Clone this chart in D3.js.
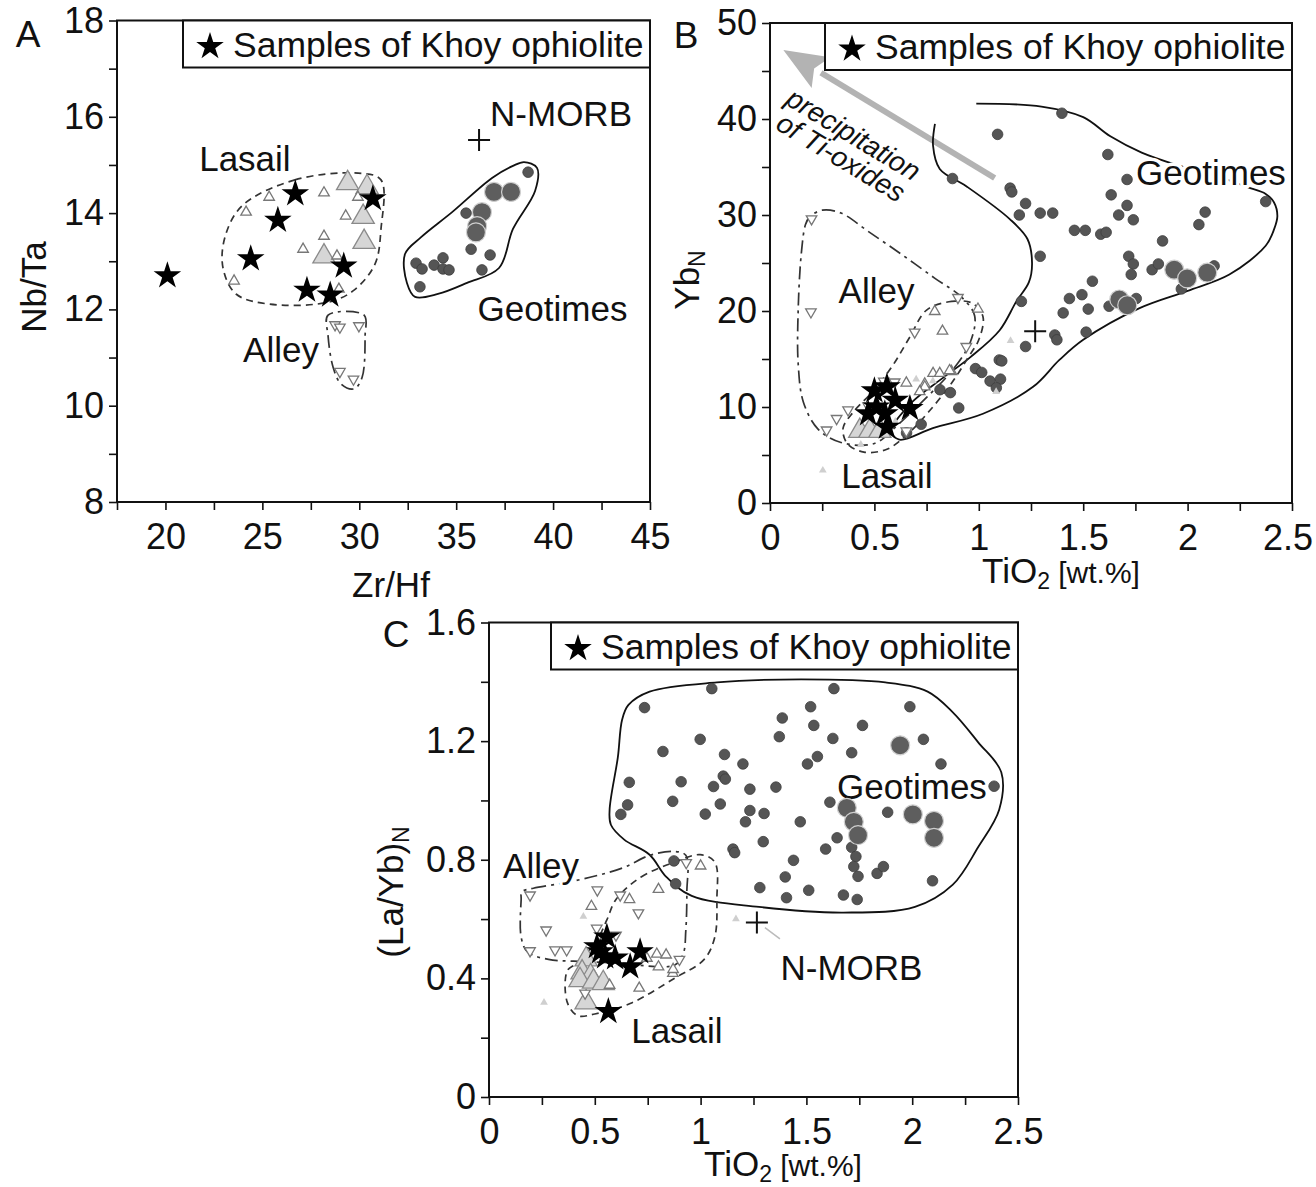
<!DOCTYPE html>
<html><head><meta charset="utf-8">
<script src="https://cdn.jsdelivr.net/npm/d3@7"></script>
<style>
body{margin:0;background:#fff;}
svg text{font-family:"Liberation Sans",Arial,Helvetica,sans-serif;fill:#111;}
</style></head><body>
<svg id="c" width="1316" height="1187"></svg>
<script>
// ---------- Panel A : Zr/Hf vs Nb/Ta ----------
const aXTicks=[20,25,30,35,40,45], aXMinor=[17.5,22.5,27.5,32.5,37.5,42.5];
const aYTicks=[8,10,12,14,16,18], aYMinor=[9,11,13,15,17];
const aStars=[[20.1,12.7],[24.4,13.05],[25.8,13.85],[26.7,14.4],[27.3,12.4],[28.5,12.3],[29.2,12.9],[30.7,14.3]];
const aGeoSmall=[[38.71,14.85],[35.51,14.0],[35.77,13.25],[36.75,13.13],[36.33,12.82],[32.93,12.96],[33.24,12.84],[33.86,12.92],[34.32,13.07],[34.32,12.84],[34.63,12.82],[33.13,12.47]];
const aGeoLarge=[[36.95,14.44],[37.83,14.44],[36.33,14.02],[36.08,13.73],[36.02,13.6]];
const aLasailSmall=[[24.16,14.02],[25.35,14.33],[28.18,14.42],[23.54,12.59],[27.1,13.25],[28.18,13.52],[29.3,13.94],[29.93,14.33],[28.85,13.11],[28.95,12.42]];
const aLasailLarge=[[29.4,14.62],[30.4,14.54],[30.2,13.92],[30.25,13.4],[28.18,13.1]];
const aLasailTiny=[];
const aAlley=[[28.75,11.68],[29.0,11.63],[29.98,11.66],[29.0,10.71],[29.7,10.55]];
const aNMORB=[[36.18,15.52]];
const aGeoHull=[[38.5,15.06],[39.17,14.94],[39.07,14.46],[37.93,13.67],[37.21,12.86],[35.56,12.55],[34.06,12.32],[32.88,12.26],[32.46,12.55],[32.36,13.15],[33.19,13.5],[34.79,14.02],[36.85,14.73],[37.93,14.98]];
const aLasailHull=[[23.95,14.15],[26.68,14.69],[29.94,14.83],[31.12,14.69],[31.12,13.67],[30.81,12.94],[29.73,12.40],[28.39,12.15],[25.34,12.11],[23.64,12.32],[22.97,12.86],[23.07,13.5]];
const aAlleyHull=[[28.39,11.88],[30.25,11.88],[30.3,11.45],[30.14,10.58],[29.73,10.35],[29.06,10.45],[28.65,10.8],[28.39,11.45]];
const aLabels=[{t:"Lasail",x:24.1,y:15.14},{t:"N-MORB",x:40.41,y:16.08},{t:"Geotimes",x:39.97,y:12.03},{t:"Alley",x:25.96,y:11.16}];

// ---------- Panel B : TiO2 vs YbN ----------
const bXTicks=[0,0.5,1,1.5,2,2.5], bXMinor=[0.25,0.75,1.25,1.75,2.25];
const bYTicks=[0,10,20,30,40,50], bYMinor=[5,15,25,35,45];
const bStars=[[0.50,11.7],[0.56,12.1],[0.47,9.3],[0.55,9.3],[0.67,9.85],[0.56,7.9],[0.6,10.7],[0.51,10.0]];
const bGeoSmall=[[1.398,40.6],[1.09,38.4],[1.618,36.3],[0.874,33.8],[1.71,33.7],[1.15,32.8],[1.158,32.4],[1.634,32.1],[1.224,31.2],[1.71,31.0],[1.194,30.0],[1.294,30.2],[1.354,30.2],[1.67,30.0],[1.74,29.5],[2.084,30.3],[1.458,28.4],[1.51,28.4],[1.584,28.0],[1.61,28.2],[2.054,29.0],[1.88,27.3],[1.294,25.7],[1.718,25.7],[1.74,24.9],[1.73,23.8],[1.83,24.3],[1.86,24.9],[1.544,23.1],[1.434,21.3],[1.494,21.7],[1.624,20.5],[1.754,21.3],[1.204,21.0],[1.404,19.8],[1.524,20.2],[1.97,22.3],[1.514,17.8],[1.364,17.5],[1.374,17.0],[1.224,16.3],[1.098,14.9],[1.11,14.8],[0.984,14.0],[1.014,13.6],[1.054,12.7],[1.104,12.9],[1.084,12.0],[0.814,11.8],[0.864,11.5],[0.904,9.9],[0.724,8.2],[0.654,7.3],[2.374,31.4],[2.127,24.7]];
const bGeoLarge=[[1.936,24.3],[1.998,23.4],[2.094,24.0],[1.673,21.2],[1.711,20.6]];
const bLasailSmall=[[0.789,19.95],[0.826,17.9],[0.996,20.2],[0.781,13.5],[0.869,13.7],[0.741,12.4],[0.653,12.5],[0.813,13.5],[0.86,13.8],[0.741,12.1],[0.717,11.6]];
const bLasailLarge=[[0.43,7.5],[0.478,7.5],[0.526,7.5]];
const bLasailTiny=[[0.253,3.4],[1.152,16.9],[1.083,11.6],[0.435,6.1],[0.7,12.9],[0.60,8.5],[0.78,12.7]];
const bAlley=[[0.199,29.6],[0.196,19.9],[0.693,17.8],[0.94,16.3],[0.9,21.4],[0.271,7.6],[0.319,8.8],[0.374,9.7],[0.597,12.6],[0.545,12.7],[0.653,7.5],[0.47,10.1]];
const bNMORB=[[1.27,17.9]];
const bGeoHull=[[0.988,41.6],[1.3,41.3],[1.5,40.2],[1.63,38.2],[1.78,36.5],[1.95,35.2],[2.15,34.0],[2.286,32.9],[2.374,32.2],[2.414,31.3],[2.43,29.9],[2.414,28.5],[2.374,26.8],[2.2,23.8],[2.0,22.1],[1.77,20.3],[1.5,17.0],[1.386,14.9],[1.26,12.1],[1.02,9.3],[0.78,7.8],[0.62,6.6],[0.58,7.5],[0.68,10.5],[0.82,12.9],[0.96,15.2],[1.1,18.0],[1.18,21.0],[1.24,23.0],[1.255,25.0],[1.233,27.5],[1.147,29.6],[0.94,33.0],[0.813,34.8],[0.781,37.2],[0.79,39.5]];
const bAlleyHull=[[0.19,29.8],[0.25,30.5],[0.34,30.2],[0.47,28.3],[0.63,25.9],[0.79,23.4],[0.92,21.4],[0.98,19.5],[0.96,16.8],[0.88,14.0],[0.75,11.0],[0.62,8.3],[0.5,6.2],[0.34,6.3],[0.23,7.7],[0.16,10.5],[0.135,14.5],[0.135,20.1],[0.15,26],[0.17,29]];
const bLasailHull=[[0.75,20.1],[0.87,21.0],[0.97,20.8],[1.02,19.4],[1.0,17.0],[0.95,15.2],[0.87,12.5],[0.76,9.5],[0.66,7.2],[0.56,5.6],[0.45,5.3],[0.37,6.2],[0.35,7.8],[0.4,9.5],[0.5,11.8],[0.59,14.4],[0.67,17.3]];
const bLabels=[{t:"Geotimes",x:2.112,y:34.48},{t:"Alley",x:0.51,y:22.19},{t:"Lasail",x:0.56,y:2.85}];
const bArrow=[[1.076,33.85],[0.064,47.2]];
const bArrowText=[{t:"precipitation",x:0.4,y:38.4},{t:"of Ti-oxides",x:0.34,y:36.0}];

// ---------- Panel C : TiO2 vs (La/Yb)N ----------
const cXTicks=[0,0.5,1,1.5,2,2.5], cXMinor=[0.25,0.75,1.25,1.75,2.25];
const cYTicks=[0,0.4,0.8,1.2,1.6], cYMinor=[0.2,0.6,1.0,1.4];
const cStars=[[0.51,0.507],[0.557,0.54],[0.549,0.473],[0.596,0.469],[0.714,0.49],[0.667,0.439],[0.564,0.288],[0.525,0.49]];
const cGeoSmall=[[1.053,1.377],[1.63,1.377],[0.735,1.313],[1.52,1.316],[1.989,1.316],[1.386,1.278],[1.535,1.253],[1.765,1.253],[0.998,1.206],[1.372,1.215],[1.625,1.209],[2.053,1.206],[0.822,1.165],[1.113,1.155],[1.552,1.148],[1.714,1.161],[1.2,1.123],[1.505,1.123],[2.136,1.123],[0.663,1.061],[0.908,1.063],[1.107,1.082],[1.117,1.072],[1.061,1.047],[1.233,1.038],[1.356,1.045],[2.387,1.048],[0.655,0.985],[0.623,0.953],[0.868,0.997],[1.093,0.988],[1.022,0.954],[1.233,0.966],[1.212,0.928],[1.3,0.956],[1.611,0.994],[1.884,0.96],[1.471,0.928],[1.296,0.861],[1.591,0.836],[1.645,0.874],[1.153,0.836],[1.161,0.824],[1.714,0.842],[1.734,0.811],[1.439,0.798],[1.724,0.777],[1.744,0.744],[1.834,0.754],[1.864,0.777],[1.40,0.742],[2.096,0.729],[1.28,0.706],[1.511,0.697],[1.406,0.672],[1.675,0.681],[1.74,0.666],[0.874,0.796],[0.882,0.719]];
const cGeoLarge=[[1.943,1.186],[1.691,0.975],[1.724,0.928],[1.744,0.883],[2.003,0.953],[2.103,0.931],[2.103,0.874]];
const cLasailSmall=[[0.484,0.643],[0.664,0.666],[0.801,0.70],[1.0,0.779],[0.746,0.468],[0.793,0.482],[0.837,0.479],[0.801,0.439],[0.869,0.417],[0.71,0.367],[0.57,0.377],[0.87,0.43]];
const cLasailLarge=[[0.459,0.464],[0.44,0.42],[0.48,0.407],[0.43,0.394],[0.494,0.389],[0.459,0.319],[0.54,0.384]];
const cLasailTiny=[[0.26,0.319],[0.446,0.609],[1.167,0.6]];
const cAlley=[[0.194,0.681],[0.512,0.698],[0.62,0.681],[0.706,0.621],[0.27,0.563],[0.509,0.569],[0.194,0.493],[0.312,0.496],[0.367,0.496],[0.454,0.35],[0.9,0.464],[0.6,0.546],[0.932,0.79]];
const cNMORB=[[1.266,0.588]];
const cGeoHull=[[0.659,1.322],[0.759,1.367],[1.077,1.398],[1.475,1.408],[1.873,1.398],[2.073,1.367],[2.192,1.297],[2.312,1.196],[2.421,1.095],[2.411,0.969],[2.312,0.843],[2.192,0.716],[2.013,0.641],[1.675,0.622],[1.276,0.641],[0.958,0.678],[0.838,0.742],[0.759,0.817],[0.639,0.868],[0.576,0.918],[0.57,0.969],[0.609,1.146],[0.629,1.272]];
const cAlleyHull=[[0.155,0.692],[0.21,0.704],[0.4,0.728],[0.63,0.772],[0.76,0.815],[0.87,0.828],[0.93,0.815],[0.935,0.69],[0.93,0.56],[0.918,0.483],[0.878,0.445],[0.6,0.452],[0.4,0.458],[0.281,0.464],[0.182,0.489],[0.152,0.539],[0.152,0.666]];
const cLasailHull=[[0.6,0.666],[0.719,0.742],[0.878,0.792],[0.998,0.817],[1.067,0.792],[1.077,0.666],[1.067,0.539],[1.017,0.464],[0.878,0.401],[0.667,0.315],[0.5,0.28],[0.42,0.274],[0.37,0.319],[0.37,0.426],[0.415,0.451],[0.51,0.529],[0.557,0.597]];
const cLabels=[{t:"Geotimes",x:1.999,y:1.049},{t:"Alley",x:0.246,y:0.782},{t:"Lasail",x:0.888,y:0.226},{t:"N-MORB",x:1.713,y:0.438}];
const cLeader=[[1.304,0.571],[1.375,0.533]];

const legendText="Samples of Khoy ophiolite";

// ---------- drawing ----------
const svg=d3.select("#c");
const FS=35, TFS=36;
const starPath=d3.symbol(d3.symbolStar,235)();
const triS=d3.symbol(d3.symbolTriangle,48)();
const triL=d3.symbol(d3.symbolTriangle,215)();
const triT=d3.symbol(d3.symbolTriangle,26)();

function panel(p){
  const g=svg.append("g");
  const x=d3.scaleLinear().domain(p.xd).range([p.L,p.R]);
  const y=d3.scaleLinear().domain(p.yd).range([p.B,p.T]);
  const fmt=d=>String(d);
  const xa=g.append("g").attr("transform",`translate(0,${p.B})`)
    .call(d3.axisBottom(x).tickValues(p.xt).tickSize(8).tickPadding(13).tickFormat(fmt));
  const xm=g.append("g").attr("transform",`translate(0,${p.B})`)
    .call(d3.axisBottom(x).tickValues(p.xm).tickSize(8).tickFormat(""));
  const ya=g.append("g").attr("transform",`translate(${p.L},0)`)
    .call(d3.axisLeft(y).tickValues(p.yt).tickSize(8).tickPadding(5).tickFormat(fmt));
  const ym=g.append("g").attr("transform",`translate(${p.L},0)`)
    .call(d3.axisLeft(y).tickValues(p.ym).tickSize(8).tickFormat(""));
  [xa,xm,ya,ym].forEach(a=>{
    a.select(".domain").remove();
    a.selectAll(".tick line").attr("stroke","#111").attr("stroke-width",1.6);
    a.selectAll(".tick text").attr("font-size",TFS).attr("fill","#111")
      .attr("font-family",'"Liberation Sans",Arial,sans-serif');
  });
  // keep the last x tick label inside the window
  xa.selectAll(".tick text").each(function(){
    const bb=this.getBBox(), m=this.parentNode.transform.baseVal.consolidate().matrix.e;
    const over=m+bb.x+bb.width-1313;
    if(over>0) d3.select(this).attr("dx",-over);
  });
  if(p.arrow){
    const [t0,t1]=p.arrow;
    const x0=x(t0[0]),y0=y(t0[1]),x1=x(t1[0]),y1=y(t1[1]);
    const ang=Math.atan2(y1-y0,x1-x0), hl=44, hw=18;
    const bx=x1-hl*Math.cos(ang), by=y1-hl*Math.sin(ang);
    g.append("line").attr("x1",x0).attr("y1",y0).attr("x2",bx).attr("y2",by)
      .attr("stroke","#b3b3b3").attr("stroke-width",6);
    const px=-Math.sin(ang)*hw, py=Math.cos(ang)*hw;
    g.append("path").attr("d",`M${x1},${y1}L${bx+px},${by+py}L${bx+8*Math.cos(ang)},${by+8*Math.sin(ang)}L${bx-px},${by-py}Z`)
      .attr("fill","#b3b3b3");
    const rot=Math.atan2(y0-y1,x0-x1)*180/Math.PI;
    p.arrowText.forEach(a=>{
      g.append("text").attr("transform",`translate(${x(a.x)},${y(a.y)}) rotate(${rot})`)
        .attr("text-anchor","middle").attr("dy","0.35em").attr("font-size",28)
        .attr("font-style","italic").attr("fill","#222").text(a.t);
    });
  }
  const closed=d3.line().x(d=>x(d[0])).y(d=>y(d[1])).curve(d3.curveCatmullRomClosed.alpha(0.5));
  const open=d3.line().x(d=>x(d[0])).y(d=>y(d[1])).curve(d3.curveCatmullRom.alpha(0.5));
  g.append("path").attr("d",(p.geoOpen?open:closed)(p.geoHull)).attr("fill","none").attr("stroke","#111").attr("stroke-width",1.8);
  g.append("path").attr("d",closed(p.lasHull)).attr("fill","none").attr("stroke","#333").attr("stroke-width",1.7).attr("stroke-dasharray","7,5");
  g.append("path").attr("d",closed(p.allHull)).attr("fill","none").attr("stroke","#333").attr("stroke-width",1.7).attr("stroke-dasharray","13,5,3,5");
  if(p.leader){
    g.append("line").attr("x1",x(p.leader[0][0])).attr("y1",y(p.leader[0][1]))
      .attr("x2",x(p.leader[1][0])).attr("y2",y(p.leader[1][1])).attr("stroke","#bbb").attr("stroke-width",1.5);
  }
  p.labels.forEach(l=>{
    g.append("text").attr("x",x(l.x)).attr("y",y(l.y)).attr("dy","0.36em").attr("text-anchor","middle")
      .attr("font-size",FS).attr("stroke","#fff").attr("stroke-width",7).attr("paint-order","stroke")
      .attr("stroke-linejoin","round").text(l.t);
  });
  g.selectAll(".gs").data(p.geoS).join("circle").attr("cx",d=>x(d[0])).attr("cy",d=>y(d[1])).attr("r",5.3)
    .attr("fill","#555").attr("stroke","#3d3d3d").attr("stroke-width",0.8);
  g.selectAll(".gl").data(p.geoL).join("circle").attr("cx",d=>x(d[0])).attr("cy",d=>y(d[1])).attr("r",9.5)
    .attr("fill","#5e5e5e").attr("stroke","#cfcfcf").attr("stroke-width",1.2);
  g.selectAll(".tt").data(p.lasT).join("path").attr("d",triT).attr("transform",d=>`translate(${x(d[0])},${y(d[1])})`)
    .attr("fill","#cfcfcf");
  g.selectAll(".tl").data(p.lasL).join("path").attr("d",triL).attr("transform",d=>`translate(${x(d[0])},${y(d[1])})`)
    .attr("fill","#d6d6d6").attr("stroke","#8a8a8a").attr("stroke-width",1.3);
  g.selectAll(".ts").data(p.lasS).join("path").attr("d",triS).attr("transform",d=>`translate(${x(d[0])},${y(d[1])})`)
    .attr("fill","#fff").attr("stroke","#777").attr("stroke-width",1.3);
  g.selectAll(".td").data(p.alley).join("path").attr("d",triS).attr("transform",d=>`translate(${x(d[0])},${y(d[1])}) rotate(180)`)
    .attr("fill","#fff").attr("stroke","#777").attr("stroke-width",1.3);
  g.selectAll(".st").data(p.stars).join("path").attr("d",starPath).attr("transform",d=>`translate(${x(d[0])},${y(d[1])})`)
    .attr("fill","#000");
  p.nmorb.forEach(d=>{
    const cx=x(d[0]),cy=y(d[1]);
    g.append("path").attr("d",`M${cx-11},${cy}H${cx+11}M${cx},${cy-11}V${cy+11}`).attr("stroke","#111").attr("stroke-width",2);
  });
  g.append("rect").attr("x",p.L).attr("y",p.T).attr("width",p.R-p.L).attr("height",p.B-p.T)
    .attr("fill","none").attr("stroke","#111").attr("stroke-width",2);
  const lw=467,lh=47,lx=p.R-lw;
  g.append("rect").attr("x",lx).attr("y",p.T).attr("width",lw).attr("height",lh)
    .attr("fill","#fff").attr("stroke","#111").attr("stroke-width",2);
  g.append("path").attr("d",starPath).attr("transform",`translate(${lx+27},${p.T+26})`).attr("fill","#000");
  g.append("text").attr("x",lx+50).attr("y",p.T+36).attr("font-size",35.5).text(legendText);
  g.append("text").attr("x",p.letterPos[0]).attr("y",p.letterPos[1]).attr("text-anchor","middle").attr("font-size",37).text(p.letter);
  const xt=g.append("text").attr("x",p.xTitlePos[0]).attr("y",p.xTitlePos[1]).attr("text-anchor","middle").attr("font-size",FS);
  p.xTitle.forEach(s=>xt.append("tspan").attr("font-size",s.fs||FS).attr("dy",s.dy||0).text(s.t));
  const yt=g.append("text").attr("transform",`translate(${p.yTitlePos[0]},${p.yTitlePos[1]}) rotate(-90)`).attr("text-anchor","middle").attr("font-size",FS);
  p.yTitle.forEach(s=>yt.append("tspan").attr("font-size",s.fs||FS).attr("dy",s.dy||0).text(s.t));
}

const tiTitle=[{t:"TiO"},{t:"2",fs:23,dy:6},{t:" [wt.%]",fs:30,dy:-6}];

panel({xd:[17.5,45],yd:[8,18],L:117,R:650,T:20.5,B:502,xt:aXTicks,xm:aXMinor,yt:aYTicks,ym:aYMinor,
  stars:aStars,geoS:aGeoSmall,geoL:aGeoLarge,lasS:aLasailSmall,lasL:aLasailLarge,lasT:aLasailTiny,alley:aAlley,nmorb:aNMORB,
  geoHull:aGeoHull,lasHull:aLasailHull,allHull:aAlleyHull,labels:aLabels,
  letter:"A",letterPos:[28,47],xTitle:[{t:"Zr/Hf"}],xTitlePos:[391,597],yTitle:[{t:"Nb/Ta"}],yTitlePos:[46,287]});

panel({xd:[0,2.5],yd:[0,50],L:770,R:1292,T:23,B:503,xt:bXTicks,xm:bXMinor,yt:bYTicks,ym:bYMinor,
  stars:bStars,geoS:bGeoSmall,geoL:bGeoLarge,lasS:bLasailSmall,lasL:bLasailLarge,lasT:bLasailTiny,alley:bAlley,nmorb:bNMORB,
  geoHull:bGeoHull,geoOpen:true,lasHull:bLasailHull,allHull:bAlleyHull,labels:bLabels,arrow:bArrow,arrowText:bArrowText,
  letter:"B",letterPos:[686,48],xTitle:tiTitle,xTitlePos:[1061,583],yTitle:[{t:"Yb"},{t:"N",fs:23,dy:6}],yTitlePos:[699,280]});

panel({xd:[0,2.5],yd:[0,1.6],L:489,R:1018,T:622.5,B:1097,xt:cXTicks,xm:cXMinor,yt:cYTicks,ym:cYMinor,
  stars:cStars,geoS:cGeoSmall,geoL:cGeoLarge,lasS:cLasailSmall,lasL:cLasailLarge,lasT:cLasailTiny,alley:cAlley,nmorb:cNMORB,
  geoHull:cGeoHull,lasHull:cLasailHull,allHull:cAlleyHull,labels:cLabels,leader:cLeader,
  letter:"C",letterPos:[396,647],xTitle:tiTitle,xTitlePos:[783,1176],yTitle:[{t:"(La/Yb)"},{t:"N",fs:23,dy:6}],yTitlePos:[403,892]});
</script></body></html>
